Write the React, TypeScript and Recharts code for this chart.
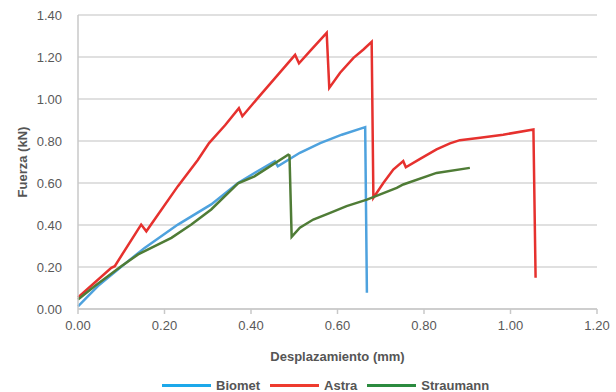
import { LineChart, Line, XAxis, YAxis, CartesianGrid, Legend } from "recharts";

// Desplazamiento (mm) / Fuerza (kN)
const biometDisp = [0, 0.046, 0.116, 0.154, 0.231, 0.308, 0.37, 0.41, 0.455, 0.462, 0.513, 0.56, 0.61, 0.664, 0.668];
const biometForce = [0.013, 0.109, 0.228, 0.291, 0.402, 0.498, 0.6, 0.65, 0.704, 0.68, 0.744, 0.79, 0.83, 0.866, 0.077];

const astraDisp = [0, 0.077, 0.085, 0.146, 0.158, 0.231, 0.277, 0.303, 0.34, 0.372, 0.38, 0.42, 0.46, 0.502, 0.511, 0.54, 0.575, 0.581, 0.606, 0.637, 0.66, 0.679, 0.683, 0.706, 0.729, 0.752, 0.758, 0.791, 0.829, 0.86, 0.883, 0.93, 0.983, 1.053, 1.058];
const astraForce = [0.055, 0.196, 0.204, 0.402, 0.37, 0.585, 0.71, 0.79, 0.875, 0.956, 0.918, 1.015, 1.11, 1.21, 1.17, 1.236, 1.315, 1.053, 1.125, 1.196, 1.236, 1.272, 0.53, 0.6, 0.664, 0.704, 0.675, 0.715, 0.76, 0.789, 0.804, 0.816, 0.83, 0.855, 0.149];

const straumannDisp = [0, 0.039, 0.1, 0.139, 0.216, 0.262, 0.308, 0.37, 0.408, 0.486, 0.489, 0.494, 0.513, 0.544, 0.583, 0.621, 0.668, 0.737, 0.752, 0.829, 0.906];
const straumannForce = [0.045, 0.109, 0.204, 0.26, 0.339, 0.402, 0.474, 0.598, 0.632, 0.735, 0.731, 0.344, 0.387, 0.426, 0.458, 0.49, 0.521, 0.577, 0.593, 0.648, 0.672];

const xTicks = [0, 0.2, 0.4, 0.6, 0.8, 1.0, 1.2];
const yTicks = [0, 0.2, 0.4, 0.6, 0.8, 1.0, 1.2, 1.4];

const toPoints = (xs: number[], ys: number[]) => xs.map((x, i) => ({ x, y: ys[i] }));

const series = [
  { name: "Biomet", data: toPoints(biometDisp, biometForce), stroke: "#4ea2de", legend: "#1ca8ea" },
  { name: "Astra", data: toPoints(astraDisp, astraForce), stroke: "#e6312e", legend: "#ee3b2e" },
  { name: "Straumann", data: toPoints(straumannDisp, straumannForce), stroke: "#4f7c36", legend: "#2b8b3f" },
];

const FONT = "'Liberation Sans', Arial, sans-serif";

function ChartLegend() {
  return (
    <div style={{ display: "flex", alignItems: "center", paddingLeft: 162, marginTop: 9, fontFamily: FONT, fontSize: 13, fontWeight: 700, color: "#555" }}>
      {series.map((s) => (
        <div key={s.name} style={{ display: "flex", alignItems: "center", marginRight: 10 }}>
          <span style={{ display: "inline-block", width: 49, height: 3, background: s.legend, marginRight: 5 }} />
          <span>{s.name}</span>
        </div>
      ))}
    </div>
  );
}

export default function App() {
  return (
    <div style={{ position: "absolute", left: 0, top: 0, width: 616, height: 392, background: "#fff" }}>
      <LineChart width={616} height={392} margin={{ top: 15, right: 19, left: 0, bottom: 0 }}>
        <CartesianGrid stroke="#d6d6d6" strokeWidth={1.5} vertical={false} />
        <XAxis
          type="number"
          dataKey="x"
          domain={[0, 1.2]}
          ticks={xTicks}
          tickFormatter={(v: number) => v.toFixed(2)}
          tick={{ fontSize: 13, fill: "#595959", fontFamily: FONT }}
          stroke="#c8c8c8"
          strokeWidth={1.5}
          tickSize={5}
          tickMargin={7}
          height={60}
          allowDuplicatedCategory={false}
          label={{
            content: ({ viewBox }: any) => (
              <text x={viewBox.x + viewBox.width / 2} y={viewBox.y + 47} textAnchor="middle" dominantBaseline="central" fontFamily={FONT} fontSize={13} fontWeight={700} fill="#555">
                Desplazamiento (mm)
              </text>
            ),
          }}
        />
        <YAxis
          type="number"
          domain={[0, 1.4]}
          ticks={yTicks}
          tickFormatter={(v: number) => v.toFixed(2)}
          tick={{ fontSize: 13, fill: "#595959", fontFamily: FONT }}
          stroke="#c8c8c8"
          strokeWidth={1.5}
          tickLine={false}
          tickMargin={10}
          width={78}
          label={{
            content: ({ viewBox }: any) => {
              const cx = viewBox.x + 22;
              const cy = viewBox.y + viewBox.height / 2;
              return (
                <text x={cx} y={cy} transform={`rotate(-90 ${cx} ${cy})`} textAnchor="middle" dominantBaseline="central" fontFamily={FONT} fontSize={13} fontWeight={700} fill="#555">
                  Fuerza (kN)
                </text>
              );
            },
          }}
        />
        <Legend verticalAlign="bottom" height={23} wrapperStyle={{ left: 0, width: 616 }} content={() => <ChartLegend />} />
        {series.map((s) => (
          <Line
            key={s.name}
            name={s.name}
            data={s.data}
            dataKey="y"
            type="linear"
            stroke={s.stroke}
            strokeWidth={2.5}
            dot={false}
            isAnimationActive={false}
          />
        ))}
      </LineChart>
    </div>
  );
}
